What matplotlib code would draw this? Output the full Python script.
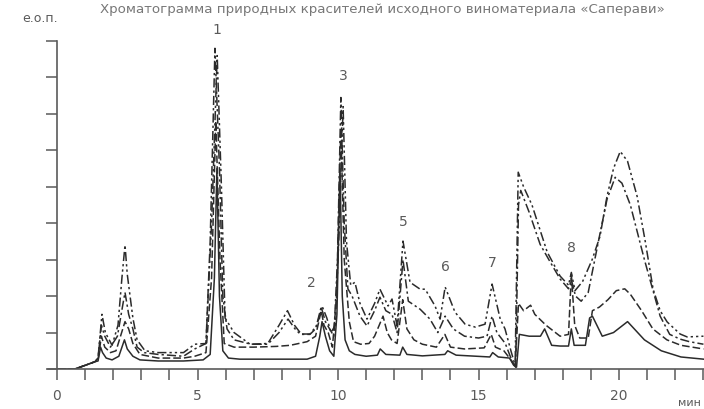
import matplotlib
matplotlib.use("Agg")
import matplotlib.pyplot as plt
from matplotlib.ticker import MultipleLocator

# retention time, min / absorbance, e.o.p.
t_solid = [0, 0.64, 1.0, 1.35, 1.46, 1.55, 1.62, 1.75, 1.96, 2.2, 2.4, 2.5, 2.7, 2.95, 3.6, 4.5,
           5.2, 5.45, 5.6, 5.69, 5.78, 5.9, 6.1, 6.5, 7.5, 8.2, 8.9, 9.2, 9.35, 9.43, 9.55, 9.7,
           9.85, 9.96, 10.07, 10.15, 10.25, 10.4, 10.6, 11.0, 11.4, 11.5, 11.7, 12.2, 12.3, 12.45,
           13.0, 13.8, 13.9, 14.2, 15.4, 15.5, 15.7, 16.1, 16.25, 16.35, 16.45, 16.8, 17.2, 17.35,
           17.6, 17.9, 18.2, 18.3, 18.4, 18.8, 18.95, 19.05, 19.4, 19.8, 20.3, 20.9, 21.5, 22.2, 23.0]
v_solid = [0, 0, 0.1, 0.2, 0.22, 0.6, 0.45, 0.3, 0.25, 0.35, 0.8, 0.55, 0.35, 0.25, 0.22, 0.22,
           0.25, 0.4, 2.5, 5.5, 2.0, 0.5, 0.3, 0.27, 0.27, 0.27, 0.27, 0.35, 0.9, 1.3, 0.9, 0.5,
           0.35, 1.5, 5.5, 2.0, 0.8, 0.5, 0.4, 0.35, 0.38, 0.55, 0.4, 0.38, 0.6, 0.4,
           0.36, 0.4, 0.5, 0.38, 0.33, 0.45, 0.33, 0.3, 0.1, 0.05, 0.95, 0.9, 0.9, 1.1,
           0.65, 0.63, 0.63, 1.1, 0.65, 0.65, 1.4, 1.45, 0.9, 1.0, 1.3, 0.8, 0.5, 0.33, 0.27]

t_dash = [0, 0.64, 1.0, 1.35, 1.46, 1.58, 1.7, 1.9, 2.1, 2.3, 2.42, 2.55, 2.7, 2.95, 3.6, 4.5,
          4.9, 5.3, 5.5, 5.65, 5.8, 5.95, 6.3, 7.0, 7.8, 8.3, 8.9, 9.2, 9.4, 9.5, 9.65, 9.8,
          9.95, 10.1, 10.22, 10.4, 10.55, 10.8, 11.1, 11.3, 11.6, 11.75, 11.9, 12.1, 12.3, 12.45,
          12.7, 13.0, 13.5, 13.8, 14.0, 14.5, 15.2, 15.45, 15.6, 15.9, 16.2, 16.3, 16.42, 16.6,
          16.85, 17.0, 17.4, 17.9, 18.2, 18.3, 18.42, 18.6, 18.9, 19.05, 19.3, 19.6, 19.9, 20.2,
          20.4, 20.8, 21.2, 21.7, 22.2, 23.0]
v_dash = [0, 0, 0.1, 0.2, 0.25, 0.9, 0.6, 0.45, 0.5, 1.0, 1.3, 1.1, 0.7, 0.4, 0.3, 0.3,
          0.35, 0.45, 2.5, 6.8, 3.0, 0.7, 0.6, 0.6, 0.62, 0.65, 0.75, 0.9, 1.6, 1.2, 1.0, 0.6,
          2.0, 6.6, 3.0, 1.3, 0.75, 0.68, 0.7, 0.9, 1.45, 1.0, 0.8, 0.7, 1.9, 1.1,
          0.8, 0.68, 0.6, 0.95, 0.6, 0.55, 0.58, 0.95, 0.6, 0.5, 0.2, 0.05, 1.8, 1.6,
          1.75, 1.5, 1.2, 0.9, 0.95, 2.6, 1.2, 0.85, 0.85, 1.6, 1.7, 1.9, 2.15, 2.2,
          2.05, 1.6, 1.1, 0.8, 0.65, 0.55]

t_dashdot = [0, 0.64, 1.0, 1.35, 1.46, 1.58, 1.7, 1.9, 2.15, 2.35, 2.42, 2.55, 2.7, 2.85, 3.1,
             3.6, 4.5, 4.9, 5.3, 5.45, 5.62, 5.78, 5.9, 6.05, 6.3, 6.9, 7.5, 7.9, 8.2, 8.45, 8.7,
             9.0, 9.2, 9.4, 9.55, 9.7, 9.85, 9.98, 10.1, 10.22, 10.35, 10.5, 10.78, 11.03, 11.3,
             11.49, 11.7, 11.92, 12.1, 12.31, 12.5, 12.92, 13.27, 13.55, 13.81, 14.1, 14.5, 15.0,
             15.3, 15.48, 15.65, 15.95, 16.2, 16.32, 16.42, 16.5, 16.8, 17.19, 17.5, 17.9, 18.2,
             18.3, 18.45, 18.65, 18.9, 19.3, 19.57, 19.86, 20.1, 20.4, 20.9, 21.46, 21.8, 22.17,
             22.5, 23.0]
v_dashdot = [0, 0, 0.1, 0.2, 0.3, 1.2, 0.9, 0.6, 0.9, 1.8, 2.1, 1.5, 1.1, 0.6, 0.45,
             0.4, 0.35, 0.55, 0.7, 3.5, 8.8, 5.5, 2.0, 1.1, 0.8, 0.68, 0.7, 1.2, 1.6, 1.2, 0.95,
             0.95, 1.1, 1.7, 1.3, 1.1, 0.9, 3.0, 7.45, 4.0, 2.2, 2.0, 1.45, 1.18, 1.6,
             1.97, 1.6, 1.5, 1.0, 3.0, 1.86, 1.64, 1.37, 1.0, 1.45, 1.1, 0.9, 0.85,
             0.9, 1.45, 1.0, 0.7, 0.2, 0.05, 4.5, 4.9, 4.3, 3.42, 3.0, 2.47, 2.2,
             2.45, 2.0, 1.86, 2.1, 3.64, 4.66, 5.26, 5.1, 4.5, 3.0, 1.45, 0.95, 0.82,
             0.75, 0.68]

t_dash2dot = [0, 0.64, 1.0, 1.35, 1.46, 1.6, 1.72, 1.96, 2.17, 2.31, 2.42, 2.5, 2.6, 2.7, 2.85,
              3.13, 3.6, 4.5, 4.9, 5.3, 5.5, 5.7, 5.85, 5.98, 6.3, 6.87, 7.5, 7.9, 8.22, 8.47,
              8.65, 9.0, 9.25, 9.43, 9.6, 9.75, 9.9, 10.05, 10.18, 10.3, 10.45, 10.6, 10.78, 11.03,
              11.3, 11.49, 11.78, 11.92, 12.1, 12.31, 12.56, 12.92, 13.1, 13.45, 13.63, 13.81,
              14.16, 14.52, 14.88, 15.23, 15.48, 15.77, 15.94, 16.15, 16.3, 16.41, 16.6, 16.9,
              17.44, 17.9, 18.2, 18.3, 18.43, 18.7, 19.04, 19.32, 19.57, 19.8, 20.04, 20.3, 20.64,
              20.93, 21.21, 21.46, 21.71, 22.17, 22.42, 23.0]
v_dash2dot = [0, 0, 0.1, 0.2, 0.3, 1.5, 1.0, 0.65, 1.2, 2.5, 3.4, 2.6, 2.0, 1.4, 0.8,
              0.5, 0.45, 0.45, 0.68, 0.7, 4.0, 8.6, 5.0, 1.4, 1.0, 0.68, 0.68, 1.0, 1.37, 1.1,
              0.96, 0.96, 1.2, 1.73, 1.4, 1.0, 1.2, 4.0, 7.2, 3.5, 2.3, 2.38, 1.8, 1.37,
              1.8, 2.19, 1.73, 1.92, 1.18, 3.51, 2.38, 2.19, 2.19, 1.73, 1.37, 2.25,
              1.56, 1.23, 1.15, 1.23, 2.33, 1.37, 1.1, 0.5, 0.1, 5.4, 5.0, 4.5,
              3.21, 2.55, 2.3, 2.65, 2.15, 2.4, 3.0, 3.64, 4.74, 5.5, 5.97, 5.7, 4.74,
              3.5, 2.19, 1.6, 1.29, 0.96, 0.88, 0.9]

peak_names = ["1", "2", "3", "5", "6", "7", "8"]
peak_t = [5.69, 9.04, 10.18, 12.31, 13.81, 15.48, 18.29]
peak_v = [9.32, 2.38, 8.08, 4.05, 2.82, 2.93, 3.34]

title = "Хроматограмма природных красителей исходного виноматериала «Саперави»"

ink = "#2b2b2b"
grey = "#5a5a5a"

fig = plt.figure(figsize=(7.04, 4.10), dpi=100)
ax = fig.add_axes([48 / 704, 40 / 410, 656 / 704, 328 / 410])

ax.plot(t_solid, v_solid, color=ink, lw=1.1, ls="-")
ax.plot(t_dash, v_dash, color=ink, lw=1.1, ls=(0, (5, 2)))
ax.plot(t_dashdot, v_dashdot, color=ink, lw=1.1, ls=(0, (6, 2, 1.5, 2)))
ax.plot(t_dash2dot, v_dash2dot, color=ink, lw=1.1, ls=(0, (6, 2, 1.5, 2, 1.5, 2)))

for name, t, v in zip(peak_names, peak_t, peak_v):
    ax.text(t, v, name, ha="center", va="center", fontsize=10, color=grey, clip_on=False)

ax.set_xlim(-0.32, 23.02)
ax.set_ylim(0, 9.0)
ax.spines["left"].set_position(("data", 0))
ax.spines["top"].set_visible(False)
ax.spines["right"].set_visible(False)
for sp in ["left", "bottom"]:
    ax.spines[sp].set_color(grey)
    ax.spines[sp].set_linewidth(1.2)

ax.xaxis.set_major_locator(MultipleLocator(5))
ax.xaxis.set_minor_locator(MultipleLocator(1))
ax.yaxis.set_major_locator(MultipleLocator(1))
ax.tick_params(axis="both", which="both", direction="out", length=8, width=1.1,
               color=grey, labelcolor=grey, labelsize=10)
ax.tick_params(axis="x", pad=6)
ax.set_yticklabels([])
ax.set_xticks([0, 5, 10, 15, 20])
ax.set_xticklabels(["0", "5", "10", "15", "20"])

fig.text(100 / 704, 1 - 9 / 410, title, ha="left", va="center", fontsize=9.6, color="#777777")
fig.text(22 / 704, 1 - 18 / 410, "е.о.п.", ha="left", va="center", fontsize=9, color=grey)
fig.text(701 / 704, 1 - 403 / 410, "мин", ha="right", va="center", fontsize=8, color=grey)

fig.savefig("out.png", dpi=100, facecolor="white")
